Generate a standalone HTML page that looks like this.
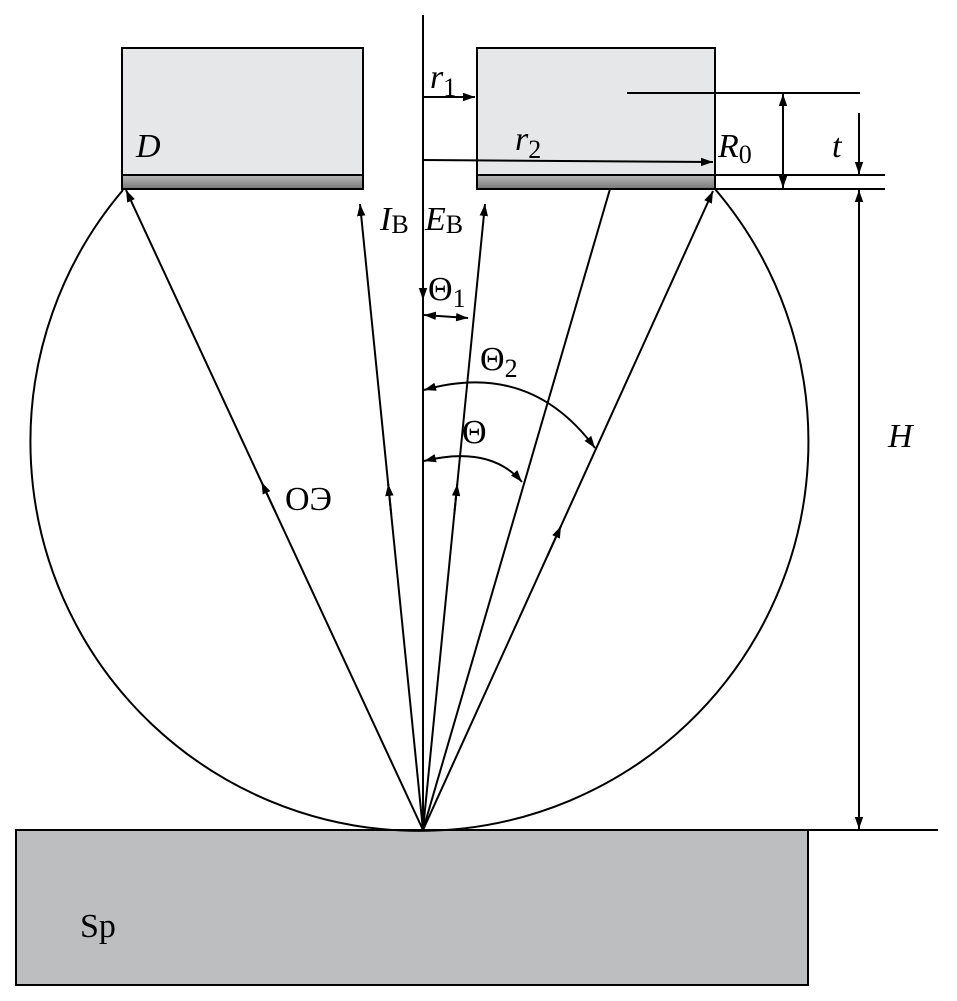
<!DOCTYPE html>
<html><head><meta charset="utf-8"><style>html,body{margin:0;padding:0;background:#fff}svg{display:block}</style></head>
<body>
<svg width="957" height="1001" viewBox="0 0 957 1001" xmlns="http://www.w3.org/2000/svg" font-family="Liberation Serif, serif">
<defs>
<marker id="a" viewBox="0 0 10 10" refX="10" refY="5" markerWidth="12" markerHeight="12" markerUnits="userSpaceOnUse" orient="auto-start-reverse"><path d="M0,1.5 L10,5 L0,8.5 Z" fill="#000"/></marker>
<linearGradient id="g" x1="0" y1="0" x2="0" y2="1"><stop offset="0" stop-color="#bbb"/><stop offset="1" stop-color="#777"/></linearGradient>
</defs>
<g stroke="#000" stroke-width="2" fill="none">
<rect x="16" y="830" width="792" height="155" fill="#bdbec0"/>
<line x1="16" y1="830" x2="938" y2="830"/>
<rect x="122" y="48" width="241" height="141" fill="#e6e7e8"/>
<rect x="122" y="175" width="241" height="14" fill="url(#g)"/>
<rect x="477" y="48" width="238" height="141" fill="#e6e7e8"/>
<rect x="477" y="175" width="238" height="14" fill="url(#g)"/>
<path d="M123,190 A389,389 0 1 0 715,189"/>
<line x1="423" y1="15" x2="423" y2="830"/>
<line x1="423" y1="270" x2="423" y2="300" marker-end="url(#a)"/>
<line x1="423" y1="830" x2="126" y2="190" marker-end="url(#a)"/>
<line x1="423" y1="830" x2="360" y2="204" marker-end="url(#a)"/>
<line x1="423" y1="830" x2="485" y2="204" marker-end="url(#a)"/>
<line x1="423" y1="830" x2="610" y2="189"/>
<line x1="423" y1="830" x2="713" y2="191" marker-end="url(#a)"/>
<line x1="275.4" y1="512" x2="261.5" y2="482" marker-end="url(#a)"/>
<line x1="391.2" y1="514" x2="388.2" y2="484" marker-end="url(#a)"/>
<line x1="454.3" y1="514" x2="457.3" y2="484" marker-end="url(#a)"/>
<line x1="547.4" y1="556" x2="561" y2="526" marker-end="url(#a)"/>
<line x1="424" y1="315" x2="468" y2="318" marker-start="url(#a)" marker-end="url(#a)"/>
<path d="M424,390 Q530,360 595,448" marker-start="url(#a)" marker-end="url(#a)"/>
<path d="M424,461 Q490,445 522,482" marker-start="url(#a)" marker-end="url(#a)"/>
<line x1="423" y1="97" x2="475" y2="97" marker-end="url(#a)"/>
<line x1="423" y1="160" x2="713" y2="162" marker-end="url(#a)"/>
<line x1="627" y1="93" x2="860" y2="93"/>
<line x1="715" y1="175" x2="885" y2="175"/>
<line x1="715" y1="189" x2="885" y2="189"/>
<line x1="783" y1="94" x2="783" y2="188" marker-start="url(#a)" marker-end="url(#a)"/>
<line x1="859" y1="113" x2="859" y2="174" marker-end="url(#a)"/>
<line x1="859" y1="190" x2="859" y2="829" marker-start="url(#a)" marker-end="url(#a)"/>
</g>
<g fill="#000" font-size="34">
<text x="136" y="157" font-style="italic">D</text>
<text x="430" y="88" font-style="italic">r<tspan font-size="26" font-style="normal" dy="8">1</tspan></text>
<text x="515" y="150" font-style="italic">r<tspan font-size="26" font-style="normal" dy="8">2</tspan></text>
<text x="718" y="157" font-style="italic">R<tspan font-size="26" font-style="normal" dy="6">0</tspan></text>
<text x="832" y="157" font-style="italic">t</text>
<text x="380" y="230" font-style="italic">I<tspan font-size="26" font-style="normal" dy="3">B</tspan></text>
<text x="425" y="230" font-style="italic">E<tspan font-size="26" font-style="normal" dy="3">B</tspan></text>
<text x="428" y="300">Θ<tspan font-size="26" dy="7">1</tspan></text>
<text x="480" y="370">Θ<tspan font-size="26" dy="7">2</tspan></text>
<text x="462" y="443">Θ</text>
<text x="285" y="510">ОЭ</text>
<text x="888" y="447" font-style="italic">H</text>
<text x="80" y="937">Sp</text>
</g>
</svg>
</body></html>
